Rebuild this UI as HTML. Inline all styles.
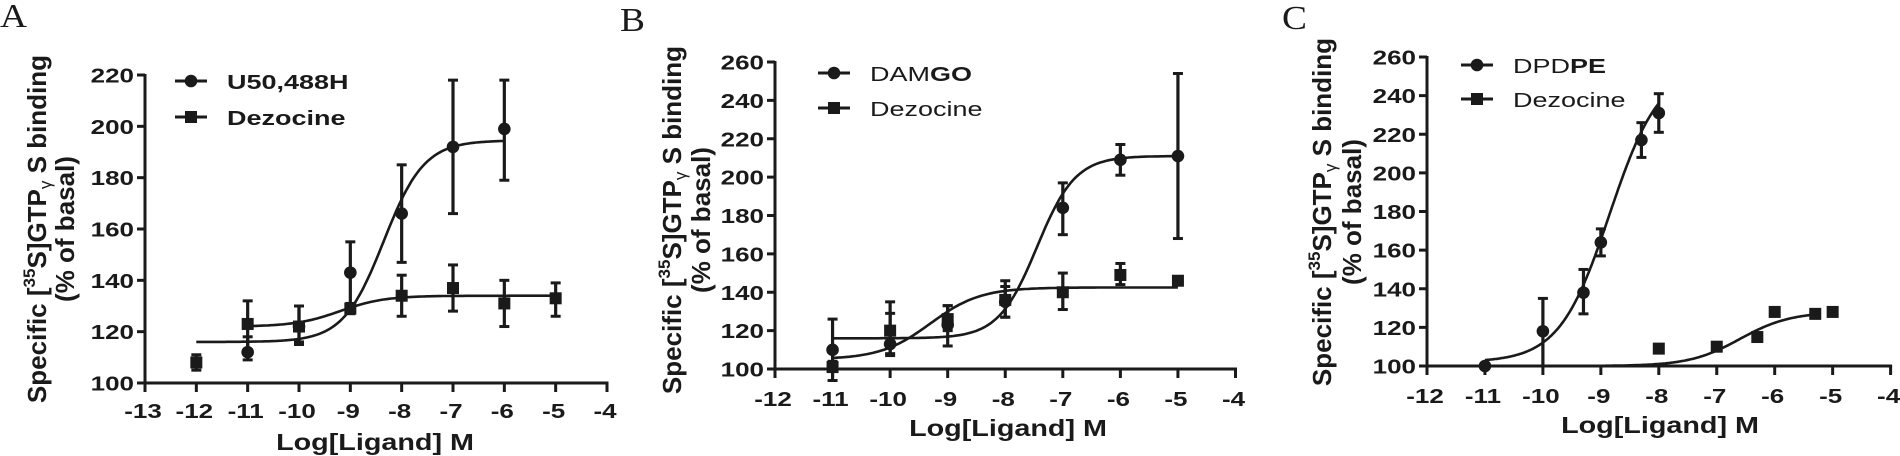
<!DOCTYPE html>
<html><head><meta charset="utf-8"><style>
html,body{margin:0;padding:0;background:#fff;}
svg{display:block;}
text{font-family:"Liberation Sans",sans-serif;fill:#1a1a1a;}
text.serif{font-family:"Liberation Serif",serif;}
</style></head><body>
<svg id="s" width="1900" height="456" xmlns="http://www.w3.org/2000/svg"></svg>
<script>
const S=document.getElementById('s');let h='';
const SX=1.3;
function T(x,y,str,o){o=o||{};const fs=o.fs||19,fw=o.fw||'bold',anc=o.anc||'start',cls=o.serif?' class="serif"':'';
 h+=`<text${cls} transform="translate(${x},${y}) scale(${o.sx||SX},1)" font-size="${fs}" font-weight="${fw}" text-anchor="${anc}">${str}</text>`;}
function L(x1,y1,x2,y2,w){h+=`<line x1="${x1}" y1="${y1}" x2="${x2}" y2="${y2}" stroke="#1a1a1a" stroke-width="${w||3}"/>`;}
function mark(x,y,t){if(t=='c')h+=`<circle cx="${x}" cy="${y}" r="6.3" fill="#1a1a1a"/>`;else h+=`<rect x="${x-6}" y="${y-6}" width="12" height="12" fill="#1a1a1a"/>`;}
function panel(P){
 const X=v=>P.ax+(v-P.xmin)*P.xu, Y=v=>P.y0-(v-P.ymin)*P.yu;
 L(P.ax,Y(P.ymax)-1,P.ax,P.y0+1.5);L(P.ax-1.5,P.y0,X(-4)+1.5,P.y0);
 for(let v=P.ymin;v<=P.ymax;v+=20){L(P.ax-8,Y(v),P.ax,Y(v));T(P.ax-11,Y(v)+7.5,v,{anc:'end',fs:20});}
 for(let v=P.xmin;v<=-4;v++){L(X(v),P.y0,X(v),P.y0+9);T(X(v)-2,P.tly,v,{anc:'middle',fs:20});}
 T(P.tcx,P.tty,'Log[Ligand] M',{anc:'middle',fs:23,sx:1.25});
 const cy=P.ycen;
 h+=`<text transform="translate(${P.yt1},${cy}) rotate(-90)" font-size="26" font-weight="bold" text-anchor="middle">Specific  [<tspan font-size="17" dy="-11">35</tspan><tspan dy="11">S]GTP</tspan><tspan font-size="17" font-weight="normal" dy="5">γ</tspan><tspan dy="-5"> S binding</tspan></text>`;
 h+=`<text transform="translate(${P.yt2},${cy}) rotate(-90)" font-size="26" font-weight="bold" text-anchor="middle">(% of basal)</text>`;
 T(P.lx,P.ly,P.letter,{fs:34,fw:'normal',serif:true,sx:1.1});
 P.leg.forEach((g,i)=>{const y=P.legy[i];L(P.legx,y,P.legx+32,y,3);mark(P.legx+16,y,g.m);h+=`<text transform="translate(${P.legx+52},${y+8}) scale(1.35,1)" font-size="20" font-weight="${P.legw||'normal'}">${g.t}</text>`;});
 P.ser.forEach(s=>{
  let d='';for(let i=0;i<=120;i++){const x=s.f[0]+(s.f[1]-s.f[0])*i/120;const v=s.b+(s.t-s.b)/(1+Math.pow(10,(s.e-x)*s.hh));d+=(i?'L':'M')+X(x).toFixed(1)+','+Y(v).toFixed(1);}
  h+=`<path d="${d}" fill="none" stroke="#1a1a1a" stroke-width="2.6"/>`;
  s.p.forEach(p=>{const x=X(p[0]);if(p[2]!=null){L(x,Y(p[2]),x,Y(p[3]),3.2);L(x-5,Y(p[2]),x+5,Y(p[2]),3);L(x-5,Y(p[3]),x+5,Y(p[3]),3);}mark(x,Y(p[1]),s.m);});
 });
}
panel({ax:145,xmin:-13,xu:(607-145)/9,y0:383,ymin:100,ymax:220,yu:308/120,tly:418,tcx:375,tty:450,yt1:46,yt2:74,ycen:229,lx:0,ly:27,letter:'A',legw:'bold',
 legx:175,legy:[81,117],leg:[{m:'c',t:'U50,488H'},{m:'s',t:'Dezocine'}],
 ser:[
 {m:'c',b:116,t:194.5,e:-8.35,hh:1.1,f:[-12,-6],p:[[-11,112,109,118],[-10,122,116,130],[-9,143,130,155],[-8,166,147,185],[-7,192,166,218],[-6,199,179,218]]},
 {m:'s',b:122,t:134,e:-9.2,hh:1,f:[-11,-5],p:[[-12,108,105,111],[-11,123,113,132],[-10,122,115,130],[-9,129,127,131],[-8,134,126,142],[-7,137,128,146],[-6,131,122,140],[-5,133,126,139]]}]});
panel({ax:775,xmin:-12,xu:(1235.5-775)/8,y0:369,ymin:100,ymax:260,yu:307/160,tly:406,tcx:1008,tty:436,yt1:681,yt2:710,ycen:220,lx:620,ly:31,letter:'B',
 legx:818,legy:[73,108],leg:[{m:'c',t:'DAM<tspan font-weight="bold">GO</tspan>'},{m:'s',t:'Dezocine'}],
 ser:[
 {m:'c',b:116,t:211,e:-7.45,hh:1.3,f:[-11,-5],p:[[-11,110,94,126],[-10,113,107,135],[-9,123,112,133],[-8,135,127,146],[-7,184,170,197],[-6,209,201,217],[-5,211,168,254]]},
 {m:'s',b:105,t:142.5,e:-9.3,hh:1,f:[-11,-5],p:[[-11,101,99,104],[-10,120,108,129],[-9,126,120,133],[-8,136,127,143],[-7,140,131,150],[-6,149,144,155],[-5,146,144,147]]}]});
panel({ax:1427,xmin:-12,xu:(1890.6-1427)/8,y0:366,ymin:100,ymax:260,yu:309/160,tly:403,tcx:1660,tty:433,yt1:1331,yt2:1361,ycen:212,lx:1282,ly:29,letter:'C',
 legx:1461,legy:[65,99],leg:[{m:'c',t:'DPD<tspan font-weight="bold">PE</tspan>'},{m:'s',t:'Dezocine'}],
 ser:[
 {m:'c',b:102,t:255,e:-8.85,hh:1,f:[-11,-8],p:[[-11,100],[-10,118,100,135],[-9.3,138,127,150],[-9,164,157,171],[-8.3,217,208,226],[-8,231,221,241]]},
 {m:'s',b:100,t:128,e:-6.6,hh:1,f:[-9,-5.3],p:[[-8,109],[-7,110],[-6.3,115],[-6,128],[-5.3,127],[-5,128]]}]});
S.innerHTML=h;
</script>
</body></html>
